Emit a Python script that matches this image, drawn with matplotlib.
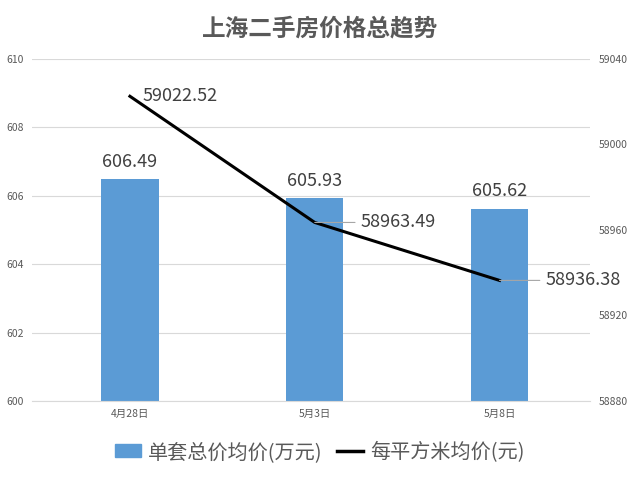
import matplotlib
matplotlib.use("Agg")
import matplotlib.pyplot as plt

plt.rcParams['font.family'] = ['Noto Sans CJK SC', 'DejaVu Sans']

# data
dates = ['4月28日', '5月3日', '5月8日']
total_price = [606.49, 605.93, 605.62]          # 单套总价均价(万元)
unit_price = [59022.52, 58963.49, 58936.38]     # 每平方米均价(元)
left_ticks = [600, 602, 604, 606, 608, 610]
right_ticks = [58880, 58920, 58960, 59000, 59040]

bar_color = '#5B9BD5'
text_color = '#595959'
grid_color = '#D9D9D9'

fig = plt.figure(figsize=(6.4, 4.79), dpi=100)
ax = fig.add_axes([0.05, 0.163, 0.872, 0.714])
x = list(range(len(dates)))

ax.bar(x, total_price, width=0.31, color=bar_color, zorder=2)
ax.set_ylim(600, 610)
ax.set_yticks(left_ticks)
ax.set_xlim(-0.53, 2.49)
ax.set_xticks(x)
ax.set_xticklabels(dates)
ax.grid(axis='y', color=grid_color, lw=0.8, zorder=0)
for s in ax.spines.values():
    s.set_visible(False)
ax.spines['bottom'].set_visible(True)
ax.spines['bottom'].set_color(grid_color)
ax.tick_params(length=0, labelsize=7.5, colors=text_color, pad=6)

for xi, v in zip(x, total_price):
    ax.annotate(f'{v:.2f}', (xi, v), xytext=(0, 6), textcoords='offset points',
                ha='center', va='bottom', fontsize=13, color='#404040')

ax2 = ax.twinx()
ax2.plot(x, unit_price, color='black', lw=2.2, zorder=3)
ax2.set_ylim(58880, 59040)
ax2.set_yticks(right_ticks)
for s in ax2.spines.values():
    s.set_visible(False)
ax2.tick_params(length=0, labelsize=7.5, colors=text_color, pad=6)

# line labels, the later two with leader lines
ax2.annotate(f'{unit_price[0]:.2f}', (x[0], unit_price[0]), xytext=(9, 0),
             textcoords='offset points', ha='left', va='center',
             fontsize=13, color='#404040')
for xi, v in zip(x[1:], unit_price[1:]):
    ax2.annotate(f'{v:.2f}', (xi, v), xytext=(33, 0),
                 textcoords='offset points', ha='left', va='center',
                 fontsize=13, color='#404040',
                 arrowprops=dict(arrowstyle='-', color='#A6A6A6', lw=0.8,
                                 shrinkA=2, shrinkB=0))

fig.text(0.5, 0.94, '上海二手房价格总趋势', ha='center', va='center',
         fontsize=17, fontweight='bold', color=text_color)

h1 = plt.Rectangle((0, 0), 1, 1, color=bar_color)
h2 = plt.Line2D([0], [0], color='black', lw=2.5)
fig.legend([h1, h2], ['单套总价均价(万元)', '每平方米均价(元)'], loc='center',
           bbox_to_anchor=(0.5, 0.056), ncol=2, frameon=False, fontsize=14.5,
           labelcolor=text_color, handlelength=1.3, handleheight=0.6,
           handletextpad=0.35, columnspacing=0.7)

fig.savefig('out.png', dpi=100)
